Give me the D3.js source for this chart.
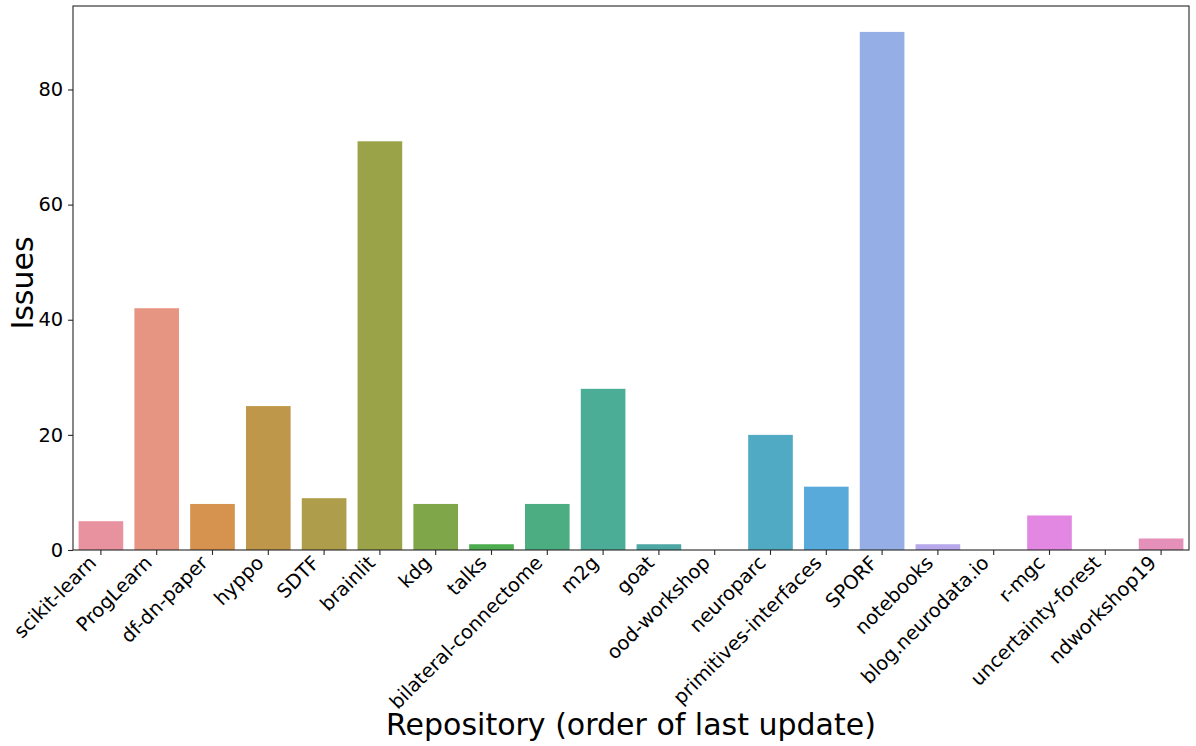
<!DOCTYPE html>
<html>
<head>
<meta charset="utf-8">
<script src="https://cdn.jsdelivr.net/npm/d3@7"></script>
<style>
  html, body { margin: 0; padding: 0; background: #fff; }
  svg { display: block; }
  text { font-family: "DejaVu Sans", sans-serif; fill: #000; }
</style>
</head>
<body>
<div id="chart"></div>
<script>
const repos = ["scikit-learn","ProgLearn","df-dn-paper","hyppo","SDTF","brainlit","kdg","talks",
  "bilateral-connectome","m2g","goat","ood-workshop","neuroparc","primitives-interfaces","SPORF",
  "notebooks","blog.neurodata.io","r-mgc","uncertainty-forest","ndworkshop19"];
const issues = [5,42,8,25,9,71,8,1,8,28,1,0,20,11,90,1,0,6,0,2];
const colors = ["#e8929f","#e69583","#d6924f","#be974a","#ae9d4b","#9aa347","#80a64a","#4cac4e",
  "#4cad83","#4cad96","#4da8a5","#4ea9b4","#51aac3","#57aad9","#95aee6","#b6a8ea","#d19ae6",
  "#e388e2","#e68dc9","#e590b8"];
const yTicks = [0,20,40,60,80];
const xLabel = "Repository (order of last update)";
const yLabel = "Issues";

const W = 1196, H = 746;
const m = {left: 73, right: 1189, top: 6, bottom: 550};

const svg = d3.select("#chart").append("svg").attr("width", W).attr("height", H);

const x = d3.scaleBand().domain(repos).range([m.left, m.right]).paddingInner(0.2).paddingOuter(0.1);
const y = d3.scaleLinear().domain([0, d3.max(issues) * 1.05]).range([m.bottom, m.top]);

svg.append("g").selectAll("rect").data(repos).join("rect")
  .attr("x", d => x(d))
  .attr("width", x.bandwidth())
  .attr("y", (d, i) => y(issues[i]))
  .attr("height", (d, i) => y(0) - y(issues[i]))
  .attr("fill", (d, i) => colors[i]);

// frame
svg.append("rect").attr("x", m.left).attr("y", m.top)
  .attr("width", m.right - m.left).attr("height", m.bottom - m.top)
  .attr("fill", "none").attr("stroke", "#262626").attr("stroke-width", 1.1);

// y axis
const yAxis = svg.append("g").attr("transform", `translate(${m.left},0)`)
  .call(d3.axisLeft(y).tickValues(yTicks).tickSize(4.9).tickPadding(4.9).tickFormat(d3.format("d")));
yAxis.select(".domain").remove();
yAxis.selectAll("line").attr("stroke", "#262626").attr("stroke-width", 1.1);
yAxis.selectAll("text").style("font-size", "19.4px").style("font-family", "DejaVu Sans").attr("fill", "#000");

// x axis
const xAxis = svg.append("g").attr("transform", `translate(0,${m.bottom})`)
  .call(d3.axisBottom(x).tickSize(4.9).tickPadding(0));
xAxis.select(".domain").remove();
xAxis.selectAll("line").attr("stroke", "#262626").attr("stroke-width", 1.1);
xAxis.selectAll("text")
  .style("font-size", "19.4px").style("font-family", "DejaVu Sans").attr("fill", "#000")
  .attr("text-anchor", "end")
  .attr("dy", null)
  .attr("y", 0)
  .attr("transform", "translate(-3.5,14) rotate(-45)");

// axis labels
svg.append("text").attr("x", (m.left + m.right) / 2).attr("y", 735)
  .attr("text-anchor", "middle").style("font-size", "30px").text(xLabel);
svg.append("text").attr("transform", "translate(32.5,283) rotate(-90)")
  .attr("text-anchor", "middle").style("font-size", "30px").text(yLabel);
</script>
</body>
</html>
